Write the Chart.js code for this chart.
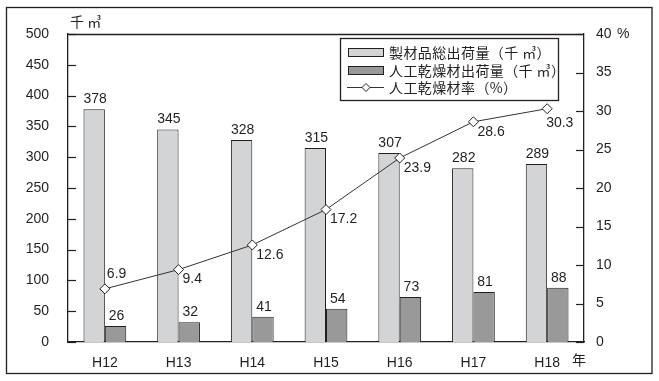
<!DOCTYPE html>
<html><head><meta charset="utf-8">
<script src="https://cdn.jsdelivr.net/npm/chart.js@4/dist/chart.umd.min.js"></script>
<style>html,body{margin:0;padding:0;background:#fff}#wrap{width:659px;height:381px;position:relative}</style>
</head><body><div id="wrap"><canvas id="c" width="659" height="381"></canvas></div>
<script>
const categories = ['H12','H13','H14','H15','H16','H17','H18'];
const totalShipment = [378,345,328,315,307,282,289];
const driedShipment = [26,32,41,54,73,81,88];
const driedRate = [6.9,9.4,12.6,17.2,23.9,28.6,30.3];
const leftTickValues = [0,50,100,150,200,250,300,350,400,450,500];
const rightTickValues = [0,5,10,15,20,25,30,35,40];
const seriesNames = ['製材品総出荷量（千 ㎥）','人工乾燥材出荷量（千 ㎥）','人工乾燥材率（%）'];
const leftUnit = '千 ㎥';
const rightUnit = '%';
const xUnit = '年';
const rateLabelPlacement = ['above','below','below','below','below','below','belowFar'];

const LIGHT = '#d3d4d6', DARK = '#999999', INK = '#231f20';
const NUM_FONT = '14px "Liberation Sans", Arial, sans-serif';
const JP_FONT = '14px "Noto Sans CJK JP", sans-serif';

const deco = {
  id: 'deco',
  afterDatasetsDraw(chart) {
    const ctx = chart.ctx;
    ctx.save();
    ctx.fillStyle = INK; ctx.font = NUM_FONT;
    [0,1].forEach(di => {
      const meta = chart.getDatasetMeta(di);
      meta.data.forEach((bar, i) => {
        ctx.textAlign = 'center'; ctx.textBaseline = 'bottom';
        ctx.fillText(String(chart.data.datasets[di].data[i]), bar.x + 1, bar.y - 3);
      });
    });
    const lm = chart.getDatasetMeta(2);
    lm.data.forEach((pt, i) => {
      const v = driedRate[i].toFixed(1);
      ctx.textAlign = 'left';
      const p = rateLabelPlacement[i];
      if (p === 'above') { ctx.textBaseline = 'bottom'; ctx.fillText(v, pt.x + 2, pt.y - 8); }
      else if (p === 'belowFar') { ctx.textBaseline = 'top'; ctx.fillText(v, pt.x - 1, pt.y + 7); }
      else { ctx.textBaseline = 'top'; ctx.fillText(v, pt.x + 4, pt.y + 3); }
    });
    ctx.restore();
  },
  afterDraw(chart) {
    const ctx = chart.ctx, a = chart.chartArea, y = chart.scales.y, y2 = chart.scales.y2;
    ctx.save();
    ctx.strokeStyle = INK; ctx.lineWidth = 1.3;
    ctx.strokeRect(6.5, 7.5, 645.5, 366);
    ctx.beginPath(); ctx.moveTo(a.left, a.top + 0.5); ctx.lineTo(a.right, a.top + 0.5); ctx.stroke();
    ctx.lineWidth = 1.2;
    leftTickValues.forEach(v => { const py = Math.round(y.getPixelForValue(v)) + 0.5; ctx.beginPath(); ctx.moveTo(a.left, py); ctx.lineTo(a.left + 8, py); ctx.stroke(); });
    rightTickValues.forEach(v => { const py = Math.round(y2.getPixelForValue(v)) + 0.5; ctx.beginPath(); ctx.moveTo(a.right - 8, py); ctx.lineTo(a.right, py); ctx.stroke(); });
    ctx.fillStyle = INK; ctx.font = JP_FONT; ctx.textBaseline = 'middle'; ctx.textAlign = 'left';
    ctx.fillText(leftUnit, 70, 22);
    ctx.fillText(xUnit, 572, 360);
    ctx.font = NUM_FONT;
    ctx.fillText(rightUnit, 617, a.top);
    const lx = 340.5, ly = 38.5;
    ctx.fillStyle = '#fff'; ctx.fillRect(lx, ly, 218, 62);
    ctx.strokeStyle = INK; ctx.lineWidth = 1.3; ctx.strokeRect(lx, ly, 218, 62);
    ctx.lineWidth = 1;
    ctx.fillStyle = LIGHT; ctx.fillRect(348.5, 48.5, 35, 8); ctx.strokeRect(348.5, 48.5, 35, 8);
    ctx.fillStyle = DARK; ctx.fillRect(348.5, 66.5, 35, 8); ctx.strokeRect(348.5, 66.5, 35, 8);
    ctx.strokeStyle = '#333';
    ctx.beginPath(); ctx.moveTo(347, 87.5); ctx.lineTo(384, 87.5); ctx.stroke();
    ctx.fillStyle = '#fff'; ctx.strokeStyle = INK;
    ctx.beginPath(); ctx.moveTo(366, 83.5); ctx.lineTo(370, 87.5); ctx.lineTo(366, 91.5); ctx.lineTo(362, 87.5); ctx.closePath(); ctx.fill(); ctx.stroke();
    ctx.fillStyle = INK; ctx.font = JP_FONT; ctx.textBaseline = 'middle'; ctx.textAlign = 'left';
    try { ctx.letterSpacing = '0.4px'; } catch (e) {}
    ctx.fillText(seriesNames[0], 389, 53);
    ctx.fillText(seriesNames[1], 389, 71);
    ctx.fillText(seriesNames[2], 389, 88);
    try { ctx.letterSpacing = '0px'; } catch (e) {}
    ctx.restore();
  }
};

new Chart(document.getElementById('c'), {
  type: 'bar',
  data: {
    labels: categories,
    datasets: [
      { label: seriesNames[0], data: totalShipment, backgroundColor: LIGHT, borderColor: INK, borderWidth: 1, yAxisID: 'y', order: 2, categoryPercentage: 0.58, barPercentage: 1 },
      { label: seriesNames[1], data: driedShipment, backgroundColor: DARK, borderColor: INK, borderWidth: 1, yAxisID: 'y', order: 2, categoryPercentage: 0.58, barPercentage: 1 },
      { type: 'line', label: seriesNames[2], data: driedRate, yAxisID: 'y2', order: 0, borderColor: '#333', borderWidth: 1, pointStyle: 'rectRot', pointRadius: 5, pointBackgroundColor: '#fff', pointBorderColor: INK, pointBorderWidth: 1, tension: 0, fill: false }
    ]
  },
  options: {
    responsive: false, animation: false, devicePixelRatio: 1,
    layout: { padding: { left: 0, right: 0, top: 34, bottom: 0 } },
    plugins: { legend: { display: false }, tooltip: { enabled: false }, title: { display: false } },
    scales: {
      x: {
        grid: { display: false }, border: { display: true, color: INK, width: 1.3 },
        ticks: { color: INK, font: { family: '"Liberation Sans", Arial, sans-serif', size: 14 }, padding: 5, maxRotation: 0 },
        afterFit(s) { s.height = 39; }
      },
      y: {
        position: 'left', min: 0, max: 500,
        grid: { display: false }, border: { display: true, color: INK, width: 1.3 },
        ticks: { stepSize: 50, color: INK, font: { family: '"Liberation Sans", Arial, sans-serif', size: 14 }, padding: 11 },
        afterFit(s) { s.width = 68; }
      },
      y2: {
        position: 'right', min: 0, max: 40,
        grid: { display: false }, border: { display: true, color: INK, width: 1.3 },
        ticks: { stepSize: 5, color: INK, font: { family: '"Liberation Sans", Arial, sans-serif', size: 14 }, padding: 4 },
        afterFit(s) { s.width = 75; }
      }
    }
  },
  plugins: [deco]
});
</script></body></html>
